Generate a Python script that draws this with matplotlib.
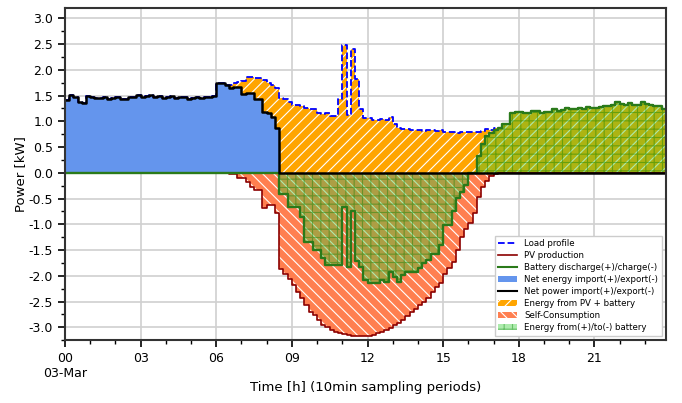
import matplotlib
matplotlib.use("Agg")
import matplotlib.pyplot as plt
import numpy as np
from matplotlib.lines import Line2D
from matplotlib.patches import Patch
from matplotlib.ticker import MultipleLocator

plt.rcParams['font.family'] = 'DejaVu Sans'
plt.rcParams['axes.unicode_minus'] = False
plt.rcParams['hatch.linewidth'] = 0.8

# 10 min samples, 03-Mar, values in kW
night = [1.42, 1.51, 1.48, 1.38, 1.36, 1.49, 1.47, 1.46, 1.45, 1.47, 1.44, 1.46,
         1.48, 1.43, 1.44, 1.48, 1.47, 1.51, 1.48, 1.49, 1.51, 1.47, 1.49, 1.45,
         1.47, 1.50, 1.45, 1.47, 1.48, 1.44, 1.45, 1.48, 1.45, 1.47, 1.48, 1.50,
         1.74, 1.74, 1.71]

load_day = [1.70, 1.75, 1.76, 1.78, 1.87, 1.86, 1.85, 1.84, 1.80, 1.75, 1.70, 1.65,
            1.46, 1.44, 1.38, 1.32, 1.31, 1.30, 1.25, 1.23, 1.23, 1.17, 1.15, 1.16,
            1.10, 1.10, 1.44, 2.48, 1.13, 2.40, 1.83, 1.23, 1.07,
            1.07, 1.03, 1.02, 1.04, 1.03, 1.09, 0.94, 0.88, 0.86, 0.86,
            0.83, 0.84, 0.83, 0.82, 0.83, 0.83, 0.82, 0.83, 0.79, 0.80,
            0.79, 0.78, 0.79, 0.79, 0.80, 0.79, 0.80, 0.82, 0.86, 0.84,
            0.87, 0.87, 0.94, 0.94]

load_evening = [1.16, 1.19, 1.18, 1.16, 1.17, 1.21, 1.20, 1.17, 1.19, 1.18,
                1.23, 1.21, 1.22, 1.26, 1.24, 1.23, 1.25, 1.24, 1.27, 1.25,
                1.26, 1.28, 1.30, 1.29, 1.31, 1.37, 1.33, 1.32, 1.35, 1.32,
                1.31, 1.37, 1.33, 1.32, 1.30, 1.30, 1.23, 1.23]

net_morning = [1.65, 1.66, 1.66, 1.54, 1.55, 1.55, 1.43, 1.43, 1.19, 1.16, 1.09, 0.88]

pv_day = [-0.03, -0.03, -0.10, -0.10, -0.17, -0.27, -0.33, -0.33, -0.68, -0.62, -0.62, -0.79,
          -1.86, -1.97, -2.07, -2.17, -2.31, -2.44, -2.57, -2.70, -2.77, -2.85,
          -2.96, -3.00, -3.06, -3.09, -3.12, -3.13, -3.15, -3.17, -3.17, -3.17,
          -3.17, -3.17, -3.15, -3.12, -3.10, -3.06, -3.02, -2.96, -2.92, -2.86,
          -2.78, -2.70, -2.64, -2.57, -2.50, -2.44, -2.31, -2.22, -2.15, -1.96,
          -1.85, -1.73, -1.50, -1.24, -1.10, -0.98, -0.79, -0.47, -0.27, -0.15,
          -0.07, -0.03]

batt_day = [-0.42, -0.42, -0.66, -0.66, -0.66, -0.85, -1.34, -1.34, -1.50, -1.50,
            -1.66, -1.79, -1.80, -1.80, -1.80, -0.66, -1.83, -0.75, -1.72, -1.83,
            -2.09, -2.15, -2.15, -2.15, -2.09, -2.12, -1.92, -2.02, -2.12, -1.99,
            -1.92, -1.92, -1.92, -1.85, -1.76, -1.70, -1.57, -1.57, -1.40, -1.01,
            -1.01, -0.75, -0.49, -0.38, -0.23, 0.00, 0.00,
            0.33, 0.55, 0.71, 0.77, 0.84, 0.87, 0.94, 0.94]

load = np.array(night + load_day + load_evening)
net = np.array(night + net_morning + [0.0] * 93)
pv = np.array([0.0] * 39 + pv_day + [0.0] * 41)
battery = np.array([0.0] * 51 + batt_day + load_evening)

t = np.arange(len(load)) / 6.0

fig = plt.figure(figsize=(6.82, 4.03), dpi=100)
ax = fig.add_axes([0.0953, 0.156, 0.881, 0.824])

ax.fill_between(t, 0, net, step='post', color='cornflowerblue', lw=0)
ax.fill_between(t, net, load, step='post', facecolor='orange', edgecolor='white',
                hatch='///', lw=0)
ax.fill_between(t, 0, pv, step='post', facecolor='coral', edgecolor='white',
                hatch='\\\\\\', lw=0)
ax.fill_between(t, 0, battery, step='post', facecolor='limegreen', edgecolor='green',
                hatch='++', lw=0, alpha=0.4)

ax.plot(t, load, drawstyle='steps-post', color='blue', ls='--', lw=1.3)
ax.plot(t, pv, drawstyle='steps-post', color='darkred', lw=1.2)
ax.plot(t, battery, drawstyle='steps-post', color='#2a7a1a', lw=1.7)
ax.plot(t, net, drawstyle='steps-post', color='black', lw=1.8)

ax.set_xlim(0, t[-1])
ax.set_ylim(-3.25, 3.2)
ax.set_xticks(np.arange(0, 24, 3))
ax.set_xticklabels(['00\n03-Mar', '03', '06', '09', '12', '15', '18', '21'])
ax.xaxis.set_minor_locator(MultipleLocator(1))
ax.yaxis.set_major_locator(MultipleLocator(0.5))
ax.yaxis.set_minor_locator(MultipleLocator(0.25))
ax.yaxis.set_major_formatter(matplotlib.ticker.FormatStrFormatter('%.1f'))
ax.tick_params(labelsize=9, length=5, width=1.2)
ax.tick_params(which='minor', length=3, width=1)
ax.grid(True, color='#d0d0d0', lw=1.2)
ax.set_axisbelow(True)
for s in ax.spines.values():
    s.set_linewidth(1.5)
    s.set_color('#333333')

ax.set_xlabel('Time [h] (10min sampling periods)', fontsize=9.5, labelpad=1)
ax.set_ylabel('Power [kW]', fontsize=9.5, labelpad=1)

handles = [
    Line2D([], [], color='blue', ls='--', lw=1.3),
    Line2D([], [], color='darkred', lw=1.2),
    Line2D([], [], color='#2a7a1a', lw=1.5),
    Patch(facecolor='cornflowerblue'),
    Line2D([], [], color='black', lw=1.5),
    Patch(facecolor='orange', edgecolor='white', hatch='///', lw=0),
    Patch(facecolor='coral', edgecolor='white', hatch='\\\\\\', lw=0),
    Patch(facecolor='limegreen', edgecolor='green', hatch='++', lw=0, alpha=0.4),
]
labels = ['Load profile', 'PV production', 'Battery discharge(+)/charge(-)',
          'Net energy import(+)/export(-)', 'Net power import(+)/export(-)',
          'Energy from PV + battery', 'Self-Consumption', 'Energy from(+)/to(-) battery']
ax.legend(handles, labels, loc='lower right', fontsize=6.2, framealpha=1,
          handlelength=2.2, borderpad=0.4, labelspacing=0.35, edgecolor='#cccccc',
          fancybox=False)

fig.savefig('out.png', dpi=100)
